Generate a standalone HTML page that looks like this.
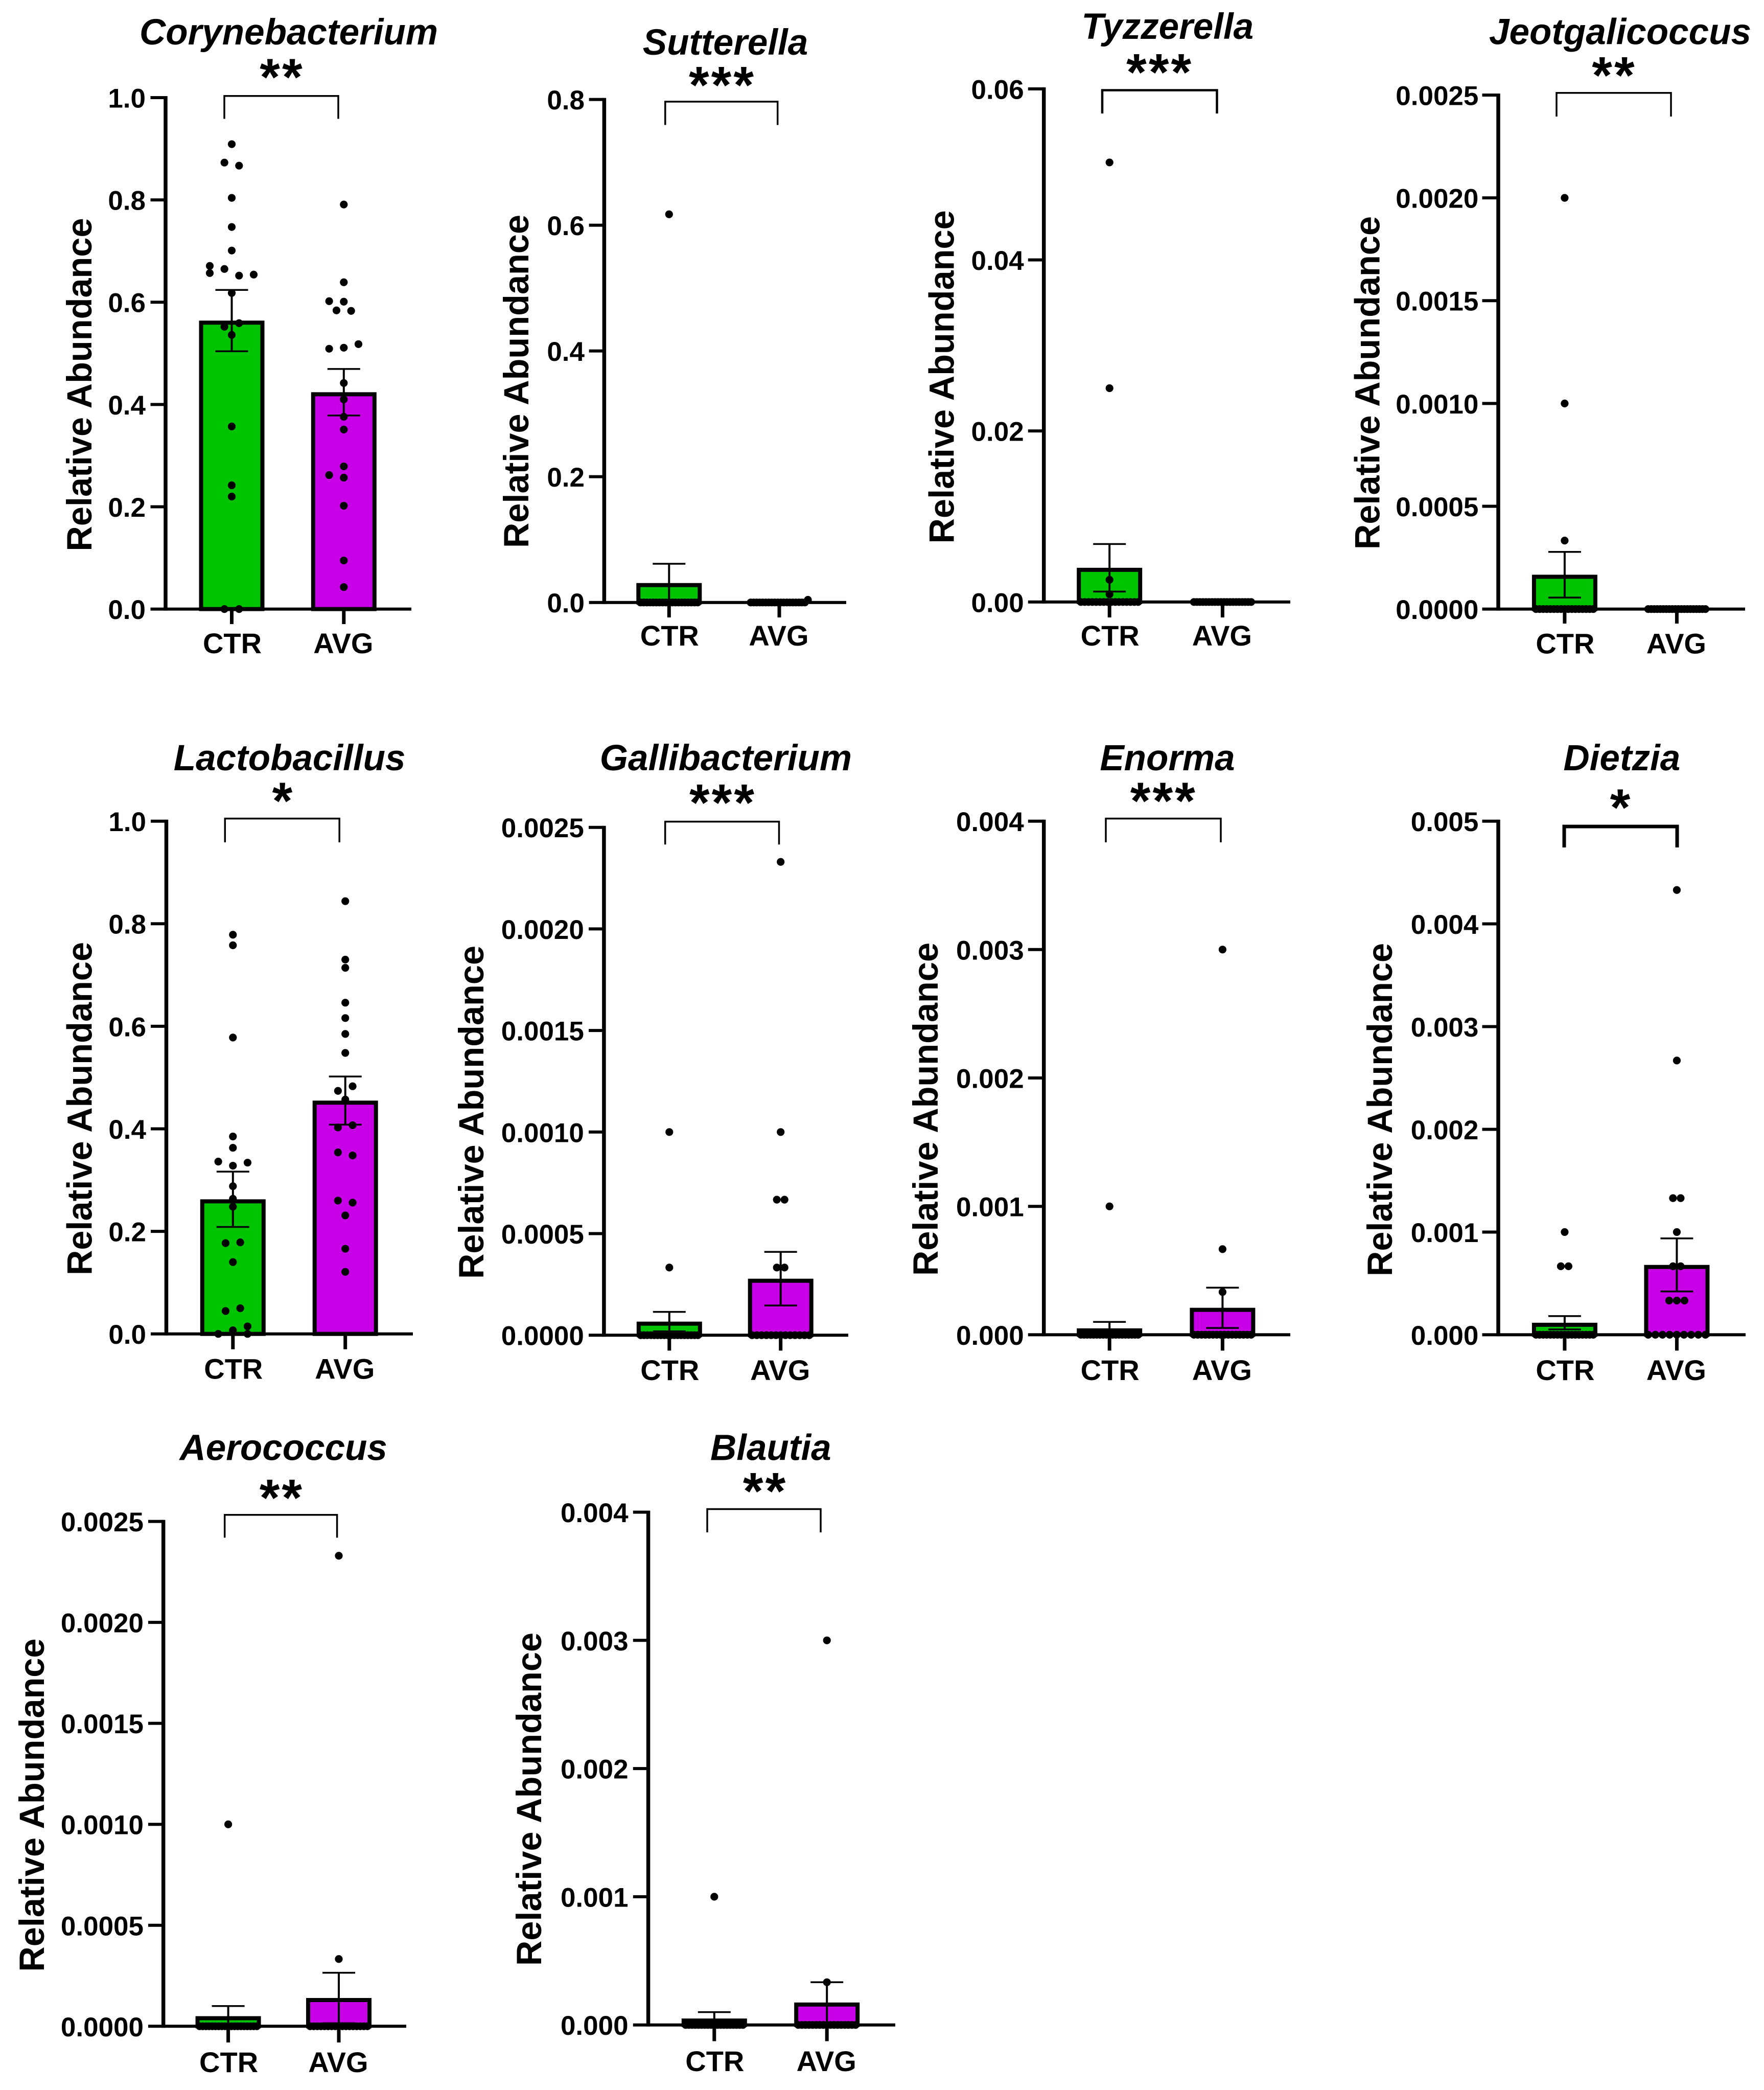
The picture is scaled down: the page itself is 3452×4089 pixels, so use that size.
<!DOCTYPE html>
<html>
<head>
<meta charset="utf-8">
<title>Relative abundance of bacterial genera, CTR vs AVG</title>
<style>
html,body{margin:0;padding:0;background:#fff;}
svg{display:block;}
text{font-family:"Liberation Sans",Arial,sans-serif;font-weight:bold;fill:#000;}
</style>
</head>
<body>
<svg id="figure" xmlns="http://www.w3.org/2000/svg" width="3452" height="4089" viewBox="0 0 3452 4089">
<rect width="3452" height="4089" fill="#fff"/>
</svg>
<script>
const groupLabels = ['CTR', 'AVG'];
const yAxisTitle = 'Relative Abundance';

const ticksFraction10 = ['0.0', '0.2', '0.4', '0.6', '0.8', '1.0'];
const ticksFraction08 = ['0.0', '0.2', '0.4', '0.6', '0.8'];
const ticksFraction006 = ['0.00', '0.02', '0.04', '0.06'];
const ticksFraction0025 = ['0.0000', '0.0005', '0.0010', '0.0015', '0.0020', '0.0025'];
const ticksFraction004 = ['0.000', '0.001', '0.002', '0.003', '0.004'];
const ticksFraction005 = ['0.000', '0.001', '0.002', '0.003', '0.004', '0.005'];

const corynebacteriumCtr = [0.909, 0.873, 0.867, 0.804, 0.747, 0.701, 0.671, 0.657, 0.665, 0.652, 0.654, 0.618, 0.559, 0.552, 0.536, 0.357, 0.242, 0.220, 0, 0];
const corynebacteriumCtrColumns = [0, -1, 1, 0, 0, 0, -3, -3, -1, 1, 3, 0, 1, -1, 0, 0, 0, 0, -1, 1];
const corynebacteriumAvg = [0.791, 0.639, 0.602, 0.601, 0.584, 0.583, 0.518, 0.511, 0.509, 0.442, 0.410, 0.376, 0.351, 0.279, 0.262, 0.257, 0.202, 0.095, 0.043];
const corynebacteriumAvgColumns = [0, 0, -2, 0, -1, 1, 2, 0, -2, 0, 0, 0, 0, 0, -2, 0, 0, 0, 0];
const corynebacteriumMeans = [0.564, 0.424];
const corynebacteriumSems = [0.060, 0.0455];

const sutterellaCtr = [0.6174, 0, 0, 0, 0, 0, 0, 0, 0, 0, 0, 0, 0, 0, 0, 0, 0, 0, 0, 0];
const sutterellaAvg = [0.0042, 0, 0, 0, 0, 0, 0, 0, 0, 0, 0, 0, 0, 0, 0, 0, 0, 0, 0, 0];
const sutterellaMeans = [0.0309, 0.0003];
const sutterellaSems = [0.0306, 0.0002];

const tyzzerellaCtr = [0.0514, 0.025, 0.0026, 0.0009, 0, 0, 0, 0, 0, 0, 0, 0, 0, 0, 0, 0, 0, 0, 0, 0];
const tyzzerellaAvg = [0, 0, 0, 0, 0, 0, 0, 0, 0, 0, 0, 0, 0, 0, 0, 0, 0, 0, 0, 0];
const tyzzerellaMeans = [0.004, 0];
const tyzzerellaSems = [0.00278, 0];

const jeotgalicoccusCtr = [0.002, 0.001, 0.000333, 0, 0, 0, 0, 0, 0, 0, 0, 0, 0, 0, 0, 0, 0, 0, 0, 0];
const jeotgalicoccusAvg = [0, 0, 0, 0, 0, 0, 0, 0, 0, 0, 0, 0, 0, 0, 0, 0, 0, 0, 0, 0];
const jeotgalicoccusMeans = [0.000167, 0];
const jeotgalicoccusSems = [0.000111, 0];

const lactobacillusCtr = [0.7785, 0.758, 0.578, 0.385, 0.363, 0.336, 0.334, 0.328, 0.288, 0.2635, 0.248, 0.177, 0.1785, 0.14, 0.0446, 0.05, 0.0146, 0.007, 0, 0];
const lactobacillusCtrColumns = [0, 0, 0, 0, 0, -2, 2, 0, 0, 0, 0, -1, 1, 0, -1, 1, 2, 0, -2, 2];
const lactobacillusAvg = [0.844, 0.730, 0.714, 0.646, 0.616, 0.585, 0.548, 0.483, 0.474, 0.457, 0.407, 0.4026, 0.354, 0.348, 0.26, 0.256, 0.231, 0.166, 0.121];
const lactobacillusAvgColumns = [0, 0, 0, 0, 0, 0, 0, 1, -1, 0, 1, -1, -1, 1, -1, 1, 0, 0, 0];
const lactobacillusMeans = [0.2625, 0.455];
const lactobacillusSems = [0.054, 0.047];

const gallibacteriumCtr = [0.001, 0.000333, 0, 0, 0, 0, 0, 0, 0, 0, 0, 0, 0, 0, 0, 0, 0, 0, 0, 0];
const gallibacteriumAvg = [0.00233, 0.001, 0.000667, 0.000667, 0.000333, 0.000333, 0, 0, 0, 0, 0, 0, 0, 0, 0, 0, 0, 0, 0];
const gallibacteriumMeans = [0.0000667, 0.000278];
const gallibacteriumSems = [0.000048, 0.000132];

const enormaCtr = [0.001, 0, 0, 0, 0, 0, 0, 0, 0, 0, 0, 0, 0, 0, 0, 0, 0, 0, 0, 0];
const enormaAvg = [0.003, 0.000667, 0.000333, 0, 0, 0, 0, 0, 0, 0, 0, 0, 0, 0, 0, 0, 0, 0, 0];
const enormaMeans = [0.00005, 0.00021];
const enormaSems = [0.00005, 0.000157];

const dietziaCtr = [0.001, 0.000667, 0.000667, 0, 0, 0, 0, 0, 0, 0, 0, 0, 0, 0, 0, 0, 0, 0, 0, 0];
const dietziaAvg = [0.00433, 0.00267, 0.00133, 0.00133, 0.001, 0.000667, 0.000667, 0.000333, 0.000333, 0.000333, 0, 0, 0, 0, 0, 0, 0, 0, 0];
const dietziaMeans = [0.000117, 0.00068];
const dietziaSems = [0.000065, 0.000258];

const aerococcusCtr = [0.001, 0, 0, 0, 0, 0, 0, 0, 0, 0, 0, 0, 0, 0, 0, 0, 0, 0, 0, 0];
const aerococcusAvg = [0.00233, 0.000333, 0, 0, 0, 0, 0, 0, 0, 0, 0, 0, 0, 0, 0, 0, 0, 0, 0];
const aerococcusMeans = [0.00005, 0.00014];
const aerococcusSems = [0.00005, 0.000125];

const blautiaCtr = [0.001, 0, 0, 0, 0, 0, 0, 0, 0, 0, 0, 0, 0, 0, 0, 0, 0, 0, 0, 0];
const blautiaAvg = [0.003, 0.000333, 0, 0, 0, 0, 0, 0, 0, 0, 0, 0, 0, 0, 0, 0, 0, 0, 0];
const blautiaMeans = [0.00005, 0.000175];
const blautiaSems = [0.00005, 0.000158];

const panels = [
  {name: 'Corynebacterium', stars: '**', ticks: ticksFraction10, ctr: corynebacteriumCtr, avg: corynebacteriumAvg, ctrCols: corynebacteriumCtrColumns, avgCols: corynebacteriumAvgColumns, means: corynebacteriumMeans, sems: corynebacteriumSems,
   box: {axisX: 324, yTop: 191, y0: 1191.6, tickL: 294.5, xEnd: 805, x1: 453.5, x2: 672.8, tickB: 1221, labelBase: 1278, titleX: 565, titleBase: 87, starX: 550, starY: 137, bx1: 439, bx2: 662, by: 187.7, by2: 232.5, bw: 3.5, yTitleX: 179, yTitleY: 752.5, tickR: 285}},
  {name: 'Sutterella', stars: '***', ticks: ticksFraction08, ctr: sutterellaCtr, avg: sutterellaAvg, means: sutterellaMeans, sems: sutterellaSems,
   box: {axisX: 1182.4, yTop: 194.6, y0: 1178.7, tickL: 1152.6, xEnd: 1656, x1: 1309.3, x2: 1525, tickB: 1208, labelBase: 1263, titleX: 1419.5, titleBase: 107, starX: 1411.5, starY: 152.4, bx1: 1301.8, bx2: 1521.7, by: 198.9, by2: 244.5, bw: 3.5, yTitleX: 1033.8, yTitleY: 746, tickR: 1144}},
  {name: 'Tyzzerella', stars: '***', ticks: ticksFraction006, ctr: tyzzerellaCtr, avg: tyzzerellaAvg, means: tyzzerellaMeans, sems: tyzzerellaSems,
   box: {axisX: 2042.7, yTop: 173.9, y0: 1177.8, tickL: 2011.8, xEnd: 2525, x1: 2171.2, x2: 2392.4, tickB: 1208, labelBase: 1263, titleX: 2284.8, titleBase: 76, starX: 2267.7, starY: 127.4, bx1: 2157, bx2: 2381.5, by: 176.5, by2: 222, bw: 4.5, yTitleX: 1866.5, yTitleY: 737.4, tickR: 2003.7}},
  {name: 'Jeotgalicoccus', stars: '**', ticks: ticksFraction0025, ctr: jeotgalicoccusCtr, avg: jeotgalicoccusAvg, means: jeotgalicoccusMeans, sems: jeotgalicoccusSems,
   box: {axisX: 2932, yTop: 186, y0: 1191.6, tickL: 2900.5, xEnd: 3415, x1: 3061.9, x2: 3281.4, tickB: 1220, labelBase: 1278.5, titleX: 3170.5, titleBase: 86.5, starX: 3157, starY: 133.4, bx1: 3046, bx2: 3270, by: 181.7, by2: 228, bw: 3.5, yTitleX: 2699.4, yTitleY: 749, tickR: 2893.4}},
  {name: 'Lactobacillus', stars: '*', ticks: ticksFraction10, ctr: lactobacillusCtr, avg: lactobacillusAvg, ctrCols: lactobacillusCtrColumns, avgCols: lactobacillusAvgColumns, means: lactobacillusMeans, sems: lactobacillusSems,
   box: {axisX: 325.5, yTop: 1606.6, y0: 2609.7, tickL: 295, xEnd: 808, x1: 455.8, x2: 675.7, tickB: 2639.8, labelBase: 2697.5, titleX: 566.6, titleBase: 1507, starX: 552.5, starY: 1553, bx1: 440.3, bx2: 664.2, by: 1601.5, by2: 1648, bw: 3.5, yTitleX: 179.7, yTitleY: 2169, tickR: 286}},
  {name: 'Gallibacterium', stars: '***', ticks: ticksFraction0025, ctr: gallibacteriumCtr, avg: gallibacteriumAvg, means: gallibacteriumMeans, sems: gallibacteriumSems,
   box: {axisX: 1181.9, yTop: 1618.7, y0: 2612.2, tickL: 1152, xEnd: 1660, x1: 1309.8, x2: 1527.7, tickB: 2642.4, labelBase: 2700, titleX: 1420.4, titleBase: 1507, starX: 1412.5, starY: 1556.7, bx1: 1301.7, bx2: 1524.5, by: 1607.5, by2: 1652.3, bw: 3.5, yTitleX: 946, yTitleY: 2176, tickR: 1142.9}},
  {name: 'Enorma', stars: '***', ticks: ticksFraction004, ctr: enormaCtr, avg: enormaAvg, means: enormaMeans, sems: enormaSems,
   box: {axisX: 2042.7, yTop: 1606.6, y0: 2611.4, tickL: 2011.8, xEnd: 2525, x1: 2171.2, x2: 2392.4, tickB: 2642.4, labelBase: 2700, titleX: 2284.5, titleBase: 1507, starX: 2275.3, starY: 1553, bx1: 2164, bx2: 2389, by: 1601.5, by2: 1648, bw: 3.5, yTitleX: 1835, yTitleY: 2170, tickR: 2003.7}},
  {name: 'Dietzia', stars: '*', ticks: ticksFraction005, ctr: dietziaCtr, avg: dietziaAvg, means: dietziaMeans, sems: dietziaSems,
   box: {axisX: 2932, yTop: 1606.6, y0: 2611.4, tickL: 2900.5, xEnd: 3416, x1: 3061.9, x2: 3281.4, tickB: 2642.4, labelBase: 2700, titleX: 3173.8, titleBase: 1507, starX: 3170.5, starY: 1566, bx1: 3061, bx2: 3282, by: 1617, by2: 1658, bw: 7, yTitleX: 2723.9, yTitleY: 2171, tickR: 2893.4}},
  {name: 'Aerococcus', stars: '**', ticks: ticksFraction0025, ctr: aerococcusCtr, avg: aerococcusAvg, means: aerococcusMeans, sems: aerococcusSems,
   box: {axisX: 319.7, yTop: 2976.6, y0: 3964.3, tickL: 290, xEnd: 795, x1: 446.6, x2: 663, tickB: 3996, labelBase: 4053.8, titleX: 554.7, titleBase: 2856.5, starX: 549.4, starY: 2916.4, bx1: 439.7, bx2: 659.6, by: 2963.7, by2: 3008.4, bw: 3.5, yTitleX: 86, yTitleY: 3531.6, tickR: 281}},
  {name: 'Blautia', stars: '**', ticks: ticksFraction004, ctr: blautiaCtr, avg: blautiaAvg, means: blautiaMeans, sems: blautiaSems,
   box: {axisX: 1268.6, yTop: 2958.5, y0: 3961.7, tickL: 1238.8, xEnd: 1752, x1: 1397.8, x2: 1618.2, tickB: 3993.5, labelBase: 4052, titleX: 1508.3, titleBase: 2856.5, starX: 1495.6, starY: 2903.5, bx1: 1384, bx2: 1606, by: 2952.5, by2: 2998, bw: 3.5, yTitleX: 1059, yTitleY: 3520, tickR: 1229.6}}
];

const SVG_NS = 'http://www.w3.org/2000/svg';
const svg = document.getElementById('figure');
const FILLS = ['#00C400', '#C800E8'];
const COLUMN_STEP = 14.33;
const BAR_OUTER = 128;
const BAR_STROKE = 8;

function make(parent, tag, attrs) {
  const el = document.createElementNS(SVG_NS, tag);
  for (const key in attrs) el.setAttribute(key, attrs[key]);
  parent.appendChild(el);
  return el;
}

function kebab(s) {
  return s.toLowerCase();
}

/* Spread near-identical values into a centred horizontal row, as the swarm layout does. */
function rowOffsets(values, maxValue) {
  const order = values.map(function (v, i) { return i; }).sort(function (a, b) { return values[a] - values[b]; });
  const offsets = new Array(values.length).fill(0);
  let start = 0;
  while (start < order.length) {
    let end = start;
    while (end + 1 < order.length && values[order[end + 1]] - values[order[start]] <= maxValue * 0.006) end++;
    const n = end - start + 1;
    const step = n > 1 ? Math.min(15, 112 / (n - 1)) : 0;
    for (let k = 0; k < n; k++) offsets[order[start + k]] = (k - (n - 1) / 2) * step;
    start = end + 1;
  }
  return offsets;
}

panels.forEach(function (panel) {
  const b = panel.box;
  const maxValue = parseFloat(panel.ticks[panel.ticks.length - 1]);
  const yScale = function (v) { return b.y0 - (v / maxValue) * (b.y0 - b.yTop); };
  const groupX = [b.x1, b.x2];

  const g = make(svg, 'g', {});
  
  

  const title = make(g, 'text', {x: b.titleX, y: b.titleBase, 'text-anchor': 'middle', 'font-size': 71, 'font-style': 'italic'});
  title.textContent = panel.name;
  
  

  const stars = make(g, 'text', {x: b.starX + 2, y: b.starY + 49, 'text-anchor': 'middle', 'font-size': 102, 'letter-spacing': 4});
  stars.textContent = panel.stars;
  
  

  const bracket = make(g, 'path', {d: 'M' + b.bx1 + ' ' + b.by2 + 'V' + b.by + 'H' + b.bx2 + 'V' + b.by2, fill: 'none', stroke: '#000', 'stroke-width': b.bw});
  
  

  const yTitle = make(g, 'text', {transform: 'translate(' + b.yTitleX + ' ' + b.yTitleY + ') rotate(-90)', 'text-anchor': 'middle', 'font-size': 68.5});
  yTitle.textContent = yAxisTitle;
  
  

  const yAxis = make(g, 'line', {x1: b.axisX, x2: b.axisX, y1: b.yTop - 3, y2: b.y0 + 3, stroke: '#000', 'stroke-width': 7.5});
  
  

  const xAxis = make(g, 'line', {x1: b.axisX, x2: b.xEnd, y1: b.y0, y2: b.y0, stroke: '#000', 'stroke-width': 6});
  
  

  panel.ticks.forEach(function (label) {
    const v = parseFloat(label);
    const y = yScale(v);
    const tick = make(g, 'line', {x1: b.tickL, x2: b.axisX, y1: y, y2: y, stroke: '#000', 'stroke-width': 6});
    
    
    const tickLabel = make(g, 'text', {x: b.tickR, y: y + 19.5, 'text-anchor': 'end', 'font-size': 53});
    tickLabel.textContent = label;
    
    
  });

  groupLabels.forEach(function (groupLabel, i) {
    const x = groupX[i];
    const slug = groupLabel.toLowerCase();

    const xTick = make(g, 'line', {x1: x, x2: x, y1: b.y0, y2: b.tickB, stroke: '#000', 'stroke-width': 7});
    
    

    const xLabel = make(g, 'text', {x: x + (i === 0 ? 1 : -1), y: b.labelBase, 'text-anchor': 'middle', 'font-size': 56});
    xLabel.textContent = groupLabel;
    
    

    const mean = panel.means[i];
    const sem = panel.sems[i];
    const barTop = yScale(mean);
    const inset = BAR_STROKE / 2;

    const bar = make(g, 'rect', {x: x - BAR_OUTER / 2 + inset, y: Math.min(barTop + inset, b.y0), width: BAR_OUTER - BAR_STROKE, height: Math.max(b.y0 - barTop - inset, 0), fill: FILLS[i], stroke: '#000', 'stroke-width': BAR_STROKE});
    
    

    const upper = yScale(mean + sem);
    const lower = yScale(Math.max(mean - sem, 0));
    const errorStem = make(g, 'line', {x1: x, x2: x, y1: upper, y2: lower, stroke: '#000', 'stroke-width': 4});
    
    
    const capTop = make(g, 'line', {x1: x - 32, x2: x + 32, y1: upper, y2: upper, stroke: '#000', 'stroke-width': 3.5});
    
    
    const capBottom = make(g, 'line', {x1: x - 32, x2: x + 32, y1: lower, y2: lower, stroke: '#000', 'stroke-width': 3.5});
    
    

    const values = i === 0 ? panel.ctr : panel.avg;
    const columns = i === 0 ? panel.ctrCols : panel.avgCols;
    const offsets = columns ? columns.map(function (c) { return c * COLUMN_STEP; }) : rowOffsets(values, maxValue);
    values.forEach(function (v, k) {
      const dot = make(g, 'circle', {cx: x + offsets[k], cy: yScale(v), r: 7.6, fill: '#000'});
      
      
    });
  });
});
</script>
</body>
</html>
